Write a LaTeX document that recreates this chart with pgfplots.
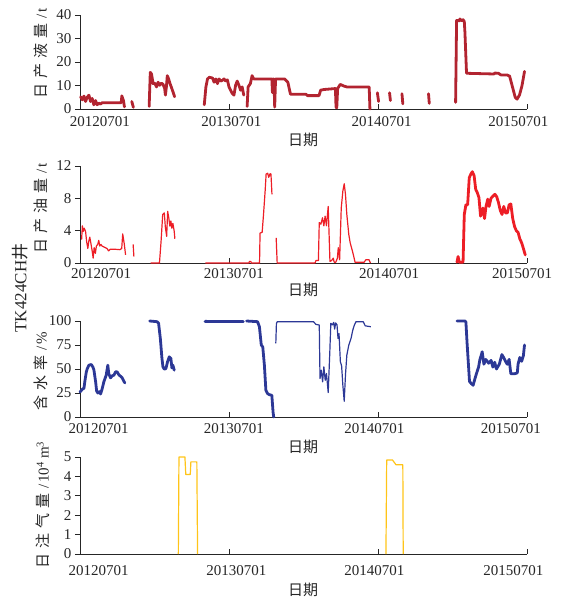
\documentclass[border=0pt]{standalone}
\usepackage{fontspec}
\setmainfont{Liberation Serif}
\newfontfamily\cjk{Noto Sans CJK SC}
\usepackage{pgfplots}
\pgfplotsset{compat=1.18}
\definecolor{liq}{RGB}{178,36,48}
\definecolor{oil}{RGB}{237,30,38}
\definecolor{wat}{RGB}{44,56,150}
\definecolor{gas}{RGB}{255,196,24}
\newcommand{\cs}{\hspace{5pt}}
\pgfplotsset{
  panel/.style={
    scale only axis, width=447pt, anchor=south west,
    xmin=0, xmax=36, enlargelimits=false,
    axis x line=bottom, axis y line=left,
    axis line style={-, line width=0.8pt, black!85},
    xtick={0,12,24,36}, xticklabels={},
    xtick align=inside, ytick align=outside,
    major tick length=5pt,
    tick style={line width=0.8pt, black!85},
    extra x tick labels={20120701,20130701,20140701,20150701},
    extra x tick style={major tick length=0pt, tick style={draw=none}},
    tick label style={font=\fontsize{15}{15}\selectfont, text=black!85},
    /pgf/number format/assume math mode=true,
    clip=false,
  },
  thick line/.style={line width=2.8pt, line join=round, line cap=round},
  thin line/.style={line width=1.2pt, line join=round},
}
\begin{document}
\begin{tikzpicture}
\useasboundingbox (0,0) rectangle (566pt,-598pt);
% ---------------- Panel 1: liquid ----------------
\begin{axis}[panel, at={(80pt,-109pt)}, height=94pt,
  ymin=0, ymax=40, ytick={0,10,20,30,40},
  extra x ticks={1.6,12.2,24.3,35.3},
  xticklabel style={yshift=-4pt}]
\addplot[liq, thick line] coordinates {(0.05,5.2)(0.19,3.9)(0.32,5.5)(0.45,3.2)(0.58,5.0)(0.72,5.9)(0.85,3.2)(0.98,4.5)(1.11,1.8)(1.25,3.6)(1.38,1.8)(1.51,2.5)(1.65,2.1)(1.8,2.7)(3.32,2.7)(3.37,5.6)(3.50,3.6)(3.58,0.9)};
\addplot[liq, thick line] coordinates {(4.17,3.2)(4.30,0.7)};
\addplot[liq, thick line] coordinates {(5.57,1.1)(5.66,15.6)(5.76,14.9)(5.89,10.8)(6.03,11.0)(6.16,9.4)(6.29,11.4)(6.42,10.1)(6.56,11.0)(6.69,10.5)(6.82,8.7)(6.88,5.9)(6.96,9.5)(7.03,14.2)(7.14,12.8)(7.25,10.8)(7.35,9.4)(7.49,7.3)(7.62,5.2)};
\addplot[liq, thick line] coordinates {(10.01,1.8)(10.14,9.4)(10.27,12.8)(10.41,13.5)(10.67,13.2)(10.80,11.4)(10.94,12.8)(11.07,10.8)(11.20,12.8)(11.33,11.9)(11.47,12.2)(11.60,12.8)(11.73,11.9)(11.87,12.4)(12.00,9.4)(12.13,8.0)(12.26,6.6)(12.40,5.9)(12.53,10.1)(12.66,11.9)(12.80,10.1)(12.93,8.0)(13.06,9.4)(13.19,5.9)};
\addplot[liq, thick line] coordinates {(13.46,1.1)(13.54,9.4)(13.72,10.8)(13.86,14.2)(13.99,12.8)(15.45,12.8)(15.50,7.0)(15.55,12.8)(15.62,12.8)(15.68,0.8)(15.75,12.8)(16.47,12.8)(16.74,11.4)(16.95,6.3)(18.19,6.3)(18.32,5.7)(19.25,5.7)(19.38,8.0)(19.64,8.3)(20.57,8.7)(20.62,0.8)(20.68,0.5)(20.75,8.7)(20.96,10.5)(21.23,9.8)(21.49,9.4)(23.29,9.4)(23.35,0)};
\addplot[liq, thick line] coordinates {(23.95,6.9)(24.05,3.2)};
\addplot[liq, thick line] coordinates {(24.93,6.9)(25.00,3.6)};
\addplot[liq, thick line] coordinates {(25.93,6.5)(26.00,2.2)};
\addplot[liq, thick line] coordinates {(28.07,6.5)(28.13,2.4)};
\addplot[liq, thick line] coordinates {(30.25,2.8)(30.33,37.7)(30.55,37.5)(30.60,38.3)(30.75,37.5)(30.85,38.0)(30.95,37.2)(31.00,32.8)(31.13,15.2)(33.34,14.9)(33.40,15.3)(33.70,15.2)(33.90,14.5)(34.40,14.5)(34.60,14.0)(34.70,12.0)(34.90,8.0)(35.05,5.0)(35.20,4.2)(35.40,6.0)(35.60,10.0)(35.80,16.0)};
\end{axis}
% ---------------- Panel 2: oil ----------------
\begin{axis}[panel, at={(80pt,-263pt)}, height=97pt,
  ymin=0, ymax=12, ytick={0,4,8,12},
  extra x ticks={1.7,12.4,24.9,35.6},
  xticklabel style={yshift=-2pt}]
\addplot[oil, thin line] coordinates {(0.13,2.9)(0.19,4.6)(0.26,3.9)(0.34,4.3)(0.45,3.9)(0.53,2.7)(0.63,1.8)(0.71,2.7)(0.79,3.2)(0.87,2.5)(0.98,1.5)(1.06,0.6)(1.14,1.9)(1.24,1.2)(1.32,2.1)(1.43,2.3)(1.51,2.8)(1.59,2.1)(1.69,2.3)(1.77,2.1)(2.04,1.9)(2.17,1.8)(2.30,1.5)(2.43,1.7)(2.83,1.7)(3.22,1.65)(3.36,1.8)(3.44,3.6)(3.57,2.3)(3.67,1.0)};
\addplot[oil, thin line] coordinates {(4.28,2.3)(4.34,0.8)};
\addplot[oil, thin line] coordinates {(5.68,0)(6.40,0)(6.53,2.7)(6.66,6.0)(6.79,6.2)(6.87,4.5)(6.98,3.3)(7.06,6.4)(7.14,5.7)(7.24,4.55)(7.32,5.2)(7.40,4.3)(7.48,4.9)(7.59,3.9)(7.64,3.0)};
\addplot[oil, thin line] coordinates {(10.1,0)(13.6,0)(13.65,0.2)(13.75,0.2)(13.8,0)(14.46,0)(14.50,3.7)(14.67,3.8)(14.78,6.0)(14.91,8.9)(14.99,11.0)(15.12,11.1)(15.20,10.6)(15.31,11.05)(15.38,11.0)(15.46,8.5)};
\addplot[oil, thin line] coordinates {(15.80,3.1)(15.88,0)(18.93,0)(19.0,0.3)(19.2,0.3)(19.27,5.0)(19.4,4.8)(19.53,5.6)(19.64,4.6)(19.74,5.8)(19.85,4.6)(19.99,7.0)(20.13,0.2)(20.26,0.3)(20.4,0.6)(20.47,0.1)(20.6,0.1)(20.73,0.6)(20.8,1.9)(20.91,0.4)(21.04,6.8)(21.17,8.9)(21.28,9.8)(21.38,8.5)(21.49,6.0)(21.65,3.5)(21.76,2.5)(21.91,1.65)(22.02,1.0)(22.15,0.1)(22.89,0.1)(23.02,0.4)(23.28,0.4)(23.39,0.0)};
\addplot[oil, thick line] coordinates {(30.36,0.1)(30.45,0.8)(30.55,0.1)(30.85,0.1)(30.95,6.0)(31.08,7.2)(31.22,7.2)(31.35,10.55)(31.48,11.0)(31.60,11.3)(31.74,10.8)(31.87,9.1)(32.00,8.7)(32.13,8.1)(32.26,5.8)(32.34,6.2)(32.45,6.8)(32.58,5.5)(32.70,7.0)(32.84,7.9)(32.95,7.0)(33.10,8.0)(33.27,8.3)(33.42,8.5)(33.56,8.2)(33.70,7.5)(33.85,6.5)(33.99,6.0)(34.13,7.0)(34.27,6.2)(34.42,6.2)(34.56,7.2)(34.70,7.3)(34.85,5.5)(35.00,4.5)(35.14,4.0)(35.28,3.8)(35.42,3.0)(35.57,2.5)(35.71,1.8)(35.86,1.0)};
\end{axis}
% ---------------- Panel 3: water cut ----------------
\begin{axis}[panel, at={(80pt,-417pt)}, height=96pt,
  ymin=0, ymax=100, ytick={0,25,50,75,100},
  extra x ticks={1.5,12.4,23.7,34.7},
  xticklabel style={yshift=-3pt}]
\addplot[wat, thick line] coordinates {(0.0,26)(0.19,29)(0.32,30)(0.40,38)(0.51,47)(0.59,50.5)(0.72,54)(0.91,54.7)(1.04,52)(1.12,49)(1.26,36.6)(1.34,27)(1.44,25)(1.58,26.5)(1.66,24)(1.79,29.6)(1.92,36.6)(2.11,43.6)(2.24,54)(2.32,45)(2.46,40.8)(2.59,42.9)(2.73,43.6)(2.86,47)(2.99,47)(3.13,44)(3.26,42.5)(3.39,41)(3.53,37.3)(3.61,35.5)};
\addplot[wat, thick line] coordinates {(5.61,100)(6.2,99.3)(6.33,97.6)(6.47,81.9)(6.6,61)(6.68,52.3)(6.79,49.8)(6.92,50.5)(7.05,57.5)(7.19,62.7)(7.32,61)(7.4,51.2)(7.48,54)(7.59,48.8)};
\addplot[wat, thick line] coordinates {(10.07,99.6)(13.15,99.4)};
\addplot[wat, thick line] coordinates {(13.42,100)(14.3,99.3)(14.45,94)(14.6,75)(14.72,73)(14.85,54)(14.97,28)(15.1,24.4)(15.25,23.3)(15.45,22.6)(15.55,5)(15.6,0)};
\addplot[wat, thin line] coordinates {(15.77,76.7)(15.82,97.6)(15.89,99.3)(18.8,99.3)(19.0,96.5)(19.27,95.8)(19.33,40)(19.43,48.8)(19.54,36.6)(19.64,52.3)(19.75,38.3)(19.85,45.3)(19.99,25.4)(20.12,68)(20.2,97.6)(20.33,96)(20.43,98.6)(20.51,91.6)(20.59,98)(20.7,96)(20.78,81.9)(20.86,87)(20.97,57.5)(21.07,53.3)(21.17,33)(21.28,16.4)(21.38,43.6)(21.49,64.5)(21.65,75)(21.83,81.9)(21.97,90.6)(22.1,95.8)(22.23,99.3)(22.81,99.3)(22.97,95)(23.42,94)};
\addplot[wat, thick line] coordinates {(30.36,100)(31.0,100)(31.08,99)(31.17,78)(31.37,37)(31.5,35)(31.66,33)(31.81,40)(31.95,46)(32.1,52)(32.21,60)(32.33,65)(32.39,68)(32.53,55)(32.68,60)(32.91,56)(33.11,59)(33.25,52)(33.4,57)(33.54,50)(33.77,55)(33.98,65)(34.12,62)(34.27,58)(34.41,55)(34.56,60)(34.7,45)(34.99,45)(35.22,46)(35.28,55)(35.42,62)(35.57,58)(35.71,64)(35.8,75)};
\end{axis}
% ---------------- Panel 4: gas injection ----------------
\begin{axis}[panel, at={(80pt,-554pt)}, height=97pt,
  ymin=0, ymax=5, ytick={0,1,2,3,4,5},
  extra x ticks={1.5,12.6,23.7,34.9},
  xticklabel style={yshift=-8pt}]
\addplot[gas, thin line] coordinates {(7.92,0)(7.97,5)(8.45,5)(8.52,4.1)(8.88,4.1)(8.93,4.75)(9.41,4.75)(9.47,0)};
\addplot[gas, thin line] coordinates {(24.64,0)(24.70,4.85)(25.16,4.85)(25.45,4.6)(26.00,4.6)(26.03,0)};
\end{axis}
% ---------------- labels ----------------
\begin{scope}[every node/.style={text=black!85}]
\node[rotate=90] at (41pt,-53pt) {\fontsize{15}{15}\selectfont{\cjk 日\cs 产\cs 液\cs 量}\cs/\hspace{2pt}t};
\node[rotate=90] at (41pt,-208pt) {\fontsize{15}{15}\selectfont{\cjk 日\cs 产\cs 油\cs 量}\cs/\hspace{2pt}t};
\node[rotate=90] at (41pt,-371pt) {\fontsize{15}{15}\selectfont{\cjk 含\cs 水\cs 率}\cs/\hspace{2pt}\%};
\node[rotate=90] at (43pt,-505pt) {\fontsize{15}{15}\selectfont{\cjk 日\cs 注\cs 气\cs 量}\cs/\hspace{2pt}10\textsuperscript{4}\hspace{3pt}m\textsuperscript{3}};
\node[rotate=90] at (20pt,-288pt) {\fontsize{17}{17}\selectfont TK424CH{\cjk 井}};
\node at (303pt,-140pt) {\fontsize{15}{15}\selectfont\cjk 日期};
\node at (303pt,-290pt) {\fontsize{15}{15}\selectfont\cjk 日期};
\node at (303pt,-447pt) {\fontsize{15}{15}\selectfont\cjk 日期};
\node at (303pt,-590pt) {\fontsize{15}{15}\selectfont\cjk 日期};
\end{scope}
\end{tikzpicture}
\end{document}
